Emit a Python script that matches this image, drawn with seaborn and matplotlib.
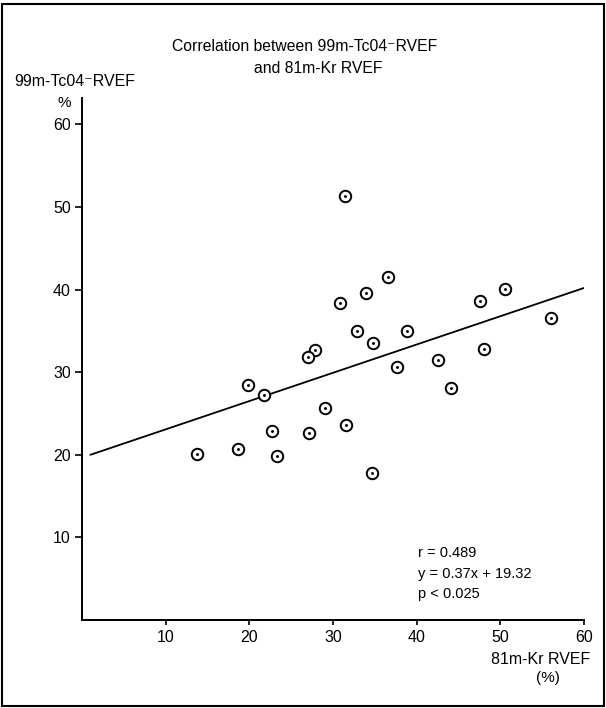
import numpy as np
import pandas as pd
import matplotlib
matplotlib.use("Agg")
import matplotlib.pyplot as plt
import seaborn as sns
from matplotlib.patches import Rectangle

# 81m-Kr RVEF (x) and 99m-TcO4- RVEF (y)
kr_rvef = [31.4, 36.6, 33.9, 30.8, 32.9, 38.8, 34.8, 27.9, 27.0, 42.5, 37.7, 19.9, 21.8,
           29.0, 31.5, 22.7, 27.1, 13.7, 18.6, 23.3, 34.7, 47.6, 50.6, 56.0, 48.0, 44.1]
tc_rvef = [51.3, 41.5, 39.6, 38.4, 35.0, 35.0, 33.5, 32.7, 31.8, 31.5, 30.6, 28.4, 27.3,
           25.7, 23.6, 22.9, 22.7, 20.1, 20.7, 19.8, 17.8, 38.6, 40.1, 36.6, 32.8, 28.1]

# regression line as drawn
fit_x = [1.0, 60.0]
fit_y = [20.0, 40.2]

x_ticks = [10, 20, 30, 40, 50, 60]
y_ticks = [10, 20, 30, 40, 50, 60]
stats_lines = ["r = 0.489", "y = 0.37x + 19.32", "p < 0.025"]

df = pd.DataFrame({"kr": kr_rvef, "tc": tc_rvef})
fit = pd.DataFrame({"x": fit_x, "y": fit_y})

sns.set_style("ticks")
plt.rcParams["font.family"] = ["Liberation Sans", "DejaVu Sans"]
plt.rcParams["font.size"] = 11
plt.rcParams["text.color"] = "black"
plt.rcParams["xtick.color"] = "black"
plt.rcParams["ytick.color"] = "black"
plt.rcParams["axes.edgecolor"] = "black"

fig = plt.figure(figsize=(6.06, 7.08), dpi=100)
ax = fig.add_axes([0.1353, 0.1243, 0.8284, 0.7373])

sns.lineplot(data=fit, x="x", y="y", ax=ax, color="black", linewidth=1.3, zorder=1)
sns.scatterplot(data=df, x="kr", y="tc", ax=ax, marker="o", s=68,
                facecolor="white", edgecolor="black", linewidth=1.4, zorder=3)
# little centre dot seen in most circles
ax.scatter(df["kr"], df["tc"], s=1.2, color="black", zorder=4)

ax.set_xlim(0, 60)
ax.set_ylim(0, 63.2)
ax.set_xticks(x_ticks)
ax.set_yticks(y_ticks)
ax.set_xlabel("")
ax.set_ylabel("")
ax.tick_params(axis="x", direction="out", length=3.5, width=1.2, pad=4, labelsize=11.5)
ax.tick_params(axis="y", direction="out", length=5, width=1.2, pad=3, labelsize=11.5)
for side in ["top", "right"]:
    ax.spines[side].set_visible(False)
for side in ["left", "bottom"]:
    ax.spines[side].set_linewidth(1.4)

# titles and axis labels
sup = "\u207b"
fig.text(0.503, 0.934, f"Correlation between 99m-Tc04{sup}RVEF", ha="center", va="center", fontsize=11.3)
fig.text(0.525, 0.9035, "and 81m-Kr RVEF", ha="center", va="center", fontsize=11.3)
fig.text(0.023, 0.8846, f"99m-Tc04{sup}RVEF", ha="left", va="center", fontsize=11.5)
fig.text(0.1056, 0.855, "%", ha="center", va="center", fontsize=11)
fig.text(0.892, 0.0678, "81m-Kr RVEF", ha="center", va="center", fontsize=11.5)
fig.text(0.9035, 0.0428, "(%)", ha="center", va="center", fontsize=11)

for i, line in enumerate(stats_lines):
    fig.text(0.690, 0.2185 - i * 0.029, line, ha="left", va="center", fontsize=10.5)

# frame around the whole figure
fig.patches.append(Rectangle((0.003, 0.003), 0.994, 0.991, transform=fig.transFigure,
                             fill=False, edgecolor="black", linewidth=1.5))

fig.savefig("out.png", dpi=100)
